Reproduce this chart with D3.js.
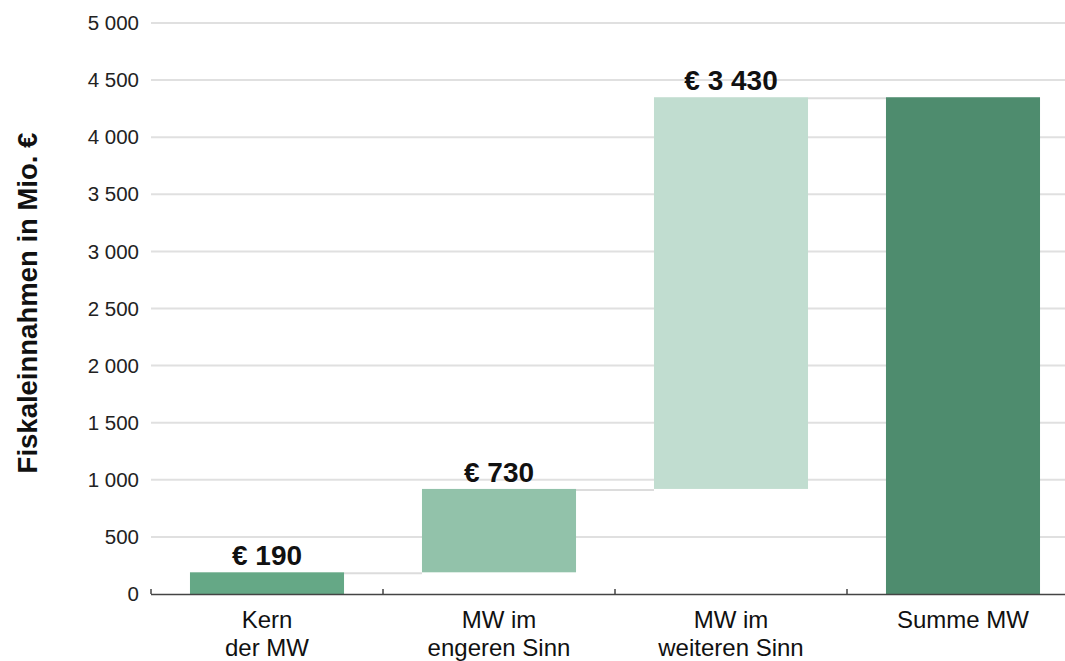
<!DOCTYPE html>
<html><head><meta charset="utf-8">
<script src="https://cdn.jsdelivr.net/npm/d3@7"></script>
<style>body{margin:0;background:#fff}svg{display:block}text{font-family:"Liberation Sans",Arial,sans-serif}</style>
</head><body>
<svg id="c" width="1065" height="661"></svg>
<script>
const categories = [["Kern","der MW"],["MW im","engeren Sinn"],["MW im","weiteren Sinn"],["Summe MW"]];
const values = [190, 730, 3430];
const valueLabels = ["€ 190","€ 730","€ 3 430"];
const colors = ["#65a886","#92c2aa","#c1ddd0","#4e8c6e"];
const yTicks = [0,500,1000,1500,2000,2500,3000,3500,4000,4500,5000];

(function(){
const total = values.reduce((a,b)=>a+b,0);
const segs = [];
let cum = 0;
values.forEach((v,i)=>{ segs.push({i, y0:cum, y1:cum+v, label:valueLabels[i]}); cum+=v; });
segs.push({i:3, y0:0, y1:total, label:null});

const svg = d3.select("#c");
const pL = 151, pR = 1079, pT = 23, pB = 594;
const x = d3.scaleBand().domain(d3.range(4)).range([pL,pR]).paddingInner(0.336).paddingOuter(0.168);
const band = d3.scaleBand().domain(d3.range(4)).range([pL,pR]);
const y = d3.scaleLinear().domain([0,5000]).range([pB,pT]);
const fmt = d => d3.format(",")(d).replace(/,/g," ");

// grid
svg.append("g").selectAll("line").data(yTicks.filter(d=>d>0)).join("line")
  .attr("x1",pL).attr("x2",1065).attr("y1",d=>y(d)).attr("y2",d=>y(d))
  .attr("stroke","#e0e0e0").attr("stroke-width",2);

// y tick labels
svg.append("g").selectAll("text").data(yTicks).join("text")
  .attr("x",139).attr("y",d=>y(d)).attr("dy","0.35em").attr("text-anchor","end")
  .attr("font-size",20.5).attr("fill","#222").text(fmt);

// connectors
svg.append("g").selectAll("line").data(segs.slice(0,3)).join("line")
  .attr("x1",d=>x(d.i)+x.bandwidth()).attr("x2",d=>x(d.i+1))
  .attr("y1",d=>y(d.y1)+1).attr("y2",d=>y(d.y1)+1)
  .attr("stroke","#dcdcdc").attr("stroke-width",2);

// bars
svg.append("g").selectAll("rect").data(segs).join("rect")
  .attr("x",d=>x(d.i)).attr("width",x.bandwidth())
  .attr("y",d=>y(d.y1)).attr("height",d=>y(d.y0)-y(d.y1))
  .attr("fill",d=>colors[d.i]);

// value labels
svg.append("g").selectAll("text").data(segs.filter(d=>d.label)).join("text")
  .attr("x",d=>x(d.i)+x.bandwidth()/2).attr("y",d=>y(d.y1)-7)
  .attr("text-anchor","middle").attr("font-size",28).attr("font-weight","bold").attr("fill","#111")
  .text(d=>d.label);

// x axis
svg.append("line").attr("x1",pL).attr("x2",1065).attr("y1",pB+0.5).attr("y2",pB+0.5)
  .attr("stroke","#444").attr("stroke-width",1.5);
svg.append("g").selectAll("line").data(d3.range(4)).join("line")
  .attr("x1",d=>band(d)).attr("x2",d=>band(d)).attr("y1",pB).attr("y2",pB-5)
  .attr("stroke","#444").attr("stroke-width",1.5);

// category labels
const cg = svg.append("g").selectAll("text").data(categories).join("text")
  .attr("text-anchor","middle").attr("font-size",24).attr("fill","#111");
cg.each(function(lines,i){
  d3.select(this).selectAll("tspan").data(lines).join("tspan")
    .attr("x",band(i)+band.bandwidth()/2).attr("y",(d,j)=>628+j*28).text(d=>d);
});

// y label
svg.append("text").attr("transform","translate(37,303) rotate(-90)")
  .attr("text-anchor","middle").attr("font-size",27.5).attr("font-weight","bold").attr("fill","#111")
  .text("Fiskaleinnahmen in Mio. €");
})();
</script>
</body></html>
